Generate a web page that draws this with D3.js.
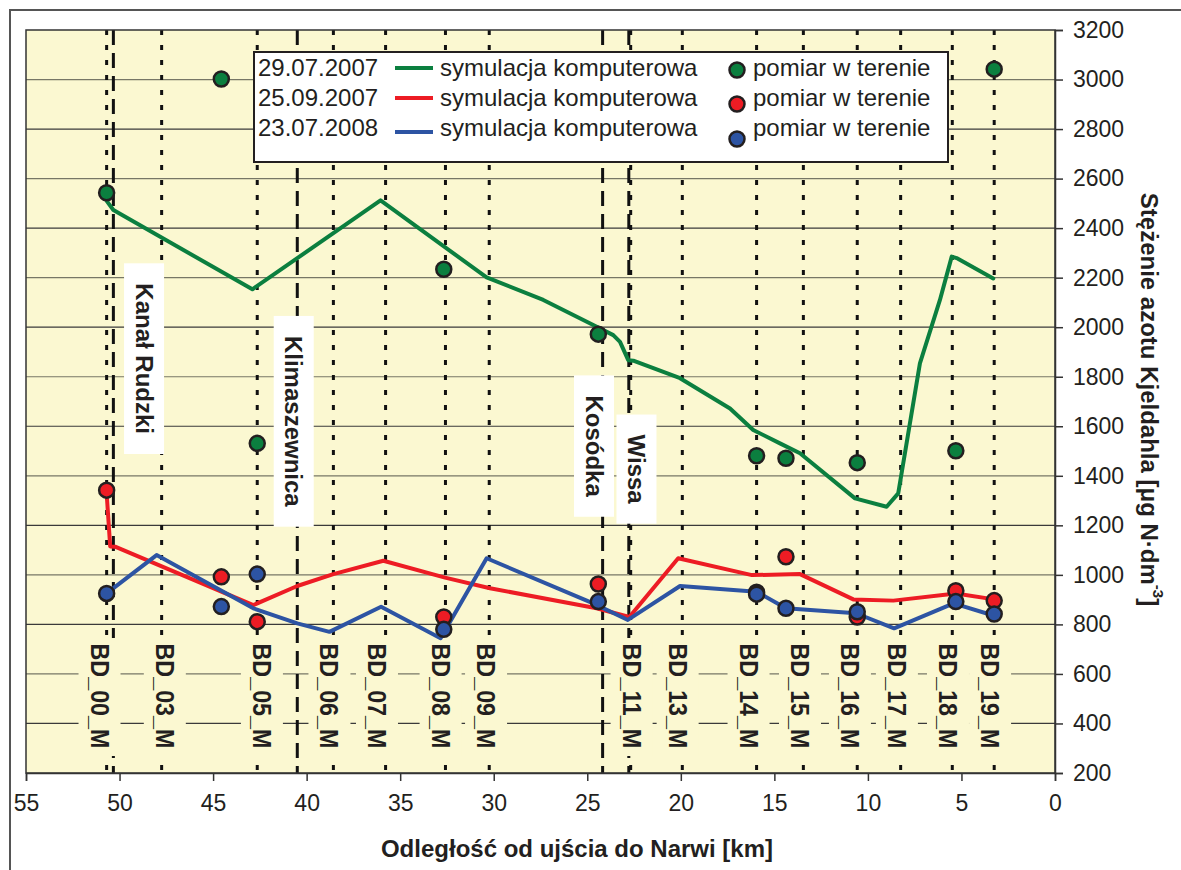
<!DOCTYPE html>
<html>
<head>
<meta charset="utf-8">
<script src="https://cdn.jsdelivr.net/npm/d3@7"></script>
<style>
  html, body { margin: 0; padding: 0; background: #ffffff; }
  svg { display: block; font-family: "Liberation Sans", Arial, Helvetica, sans-serif; }
</style>
</head>
<body>
<svg id="chart" width="1181" height="870"></svg>
<script>
// ---------------- DATA ----------------
const xTickValues = [55, 50, 45, 40, 35, 30, 25, 20, 15, 10, 5, 0];
const yTickValues = [200, 400, 600, 800, 1000, 1200, 1400, 1600, 1800, 2000, 2200, 2400, 2600, 2800, 3000, 3200];

const stationNames = ["BD_00_M", "BD_03_M", "BD_05_M", "BD_06_M", "BD_07_M", "BD_08_M", "BD_09_M",
  "BD_11_M", "BD_13_M", "BD_14_M", "BD_15_M", "BD_16_M", "BD_17_M", "BD_18_M", "BD_19_M"];
const stationKm = [50.69, 47.75, 42.64, 38.57, 35.78, 32.58, 30.24, 22.68, 19.92, 15.95, 13.45, 10.57, 8.25, 5.49, 3.25];
const stationLabelKm = [51.07, 47.58, 42.39, 38.78, 36.24, 32.84, 30.41, 22.63, 20.17, 16.38, 13.63, 10.96, 8.45, 5.72, 3.47];

const tributaryNames = ["Kanał Rudzki", "Klimaszewnica", "Kosódka", "Wissa"];
const tributaryKm = [50.33, 40.5, 24.18, 22.78];
const tributaryLabelKm = [48.69, 40.69, 24.64, 22.37];
const tributaryLabelValue = [1873, 1620, 1520, 1427];

const seriesDates = ["29.07.2007", "25.09.2007", "23.07.2008"];

// simulation (computer model) lines
const greenSimKm = [50.69, 50.33, 42.9, 36.05, 30.38, 27.35, 24.68, 23.61, 23.25, 22.81, 22.54, 20.04, 17.37, 16.13, 14.7, 13.63, 10.69, 9.0, 8.38, 7.22, 6.15, 5.52, 5.26, 3.30];
const greenSim = [2510, 2473, 2153, 2512, 2201, 2110, 2009, 1968, 1941, 1867, 1865, 1794, 1672, 1585, 1531, 1491, 1309, 1275, 1329, 1854, 2110, 2285, 2279, 2197];

const redSimKm = [50.69, 50.5, 50.24, 42.85, 40.5, 38.57, 35.9, 32.6, 30.2, 24.5, 22.75, 20.14, 16.2, 13.63, 10.78, 8.64, 5.3, 3.25];
const redSim = [1330, 1115, 1114, 878, 955, 1003, 1057, 989, 946, 865, 830, 1067, 999, 1003, 901, 896, 925, 901];

const blueSimKm = [50.69, 48.02, 42.85, 40.5, 38.78, 36.02, 32.84, 30.38, 24.68, 22.83, 20.04, 15.95, 14.38, 10.64, 8.6, 5.42, 3.25];
const blueSim = [925, 1080, 865, 804, 770, 871, 744, 1067, 885, 818, 955, 932, 865, 845, 784, 885, 835];

// field measurements
const measKm = [50.69, 44.56, 42.64, 32.67, 24.41, 15.95, 14.38, 10.57, 5.3, 3.25];
const greenMeas = [2543, 3002, 1531, 2234, 1972, 1481, 1471, 1453, 1501, 3042];
const redMeas = [1342, 992, 811, 830, 963, 930, 1073, 830, 936, 896];
const blueMeas = [925, 872, 1003, 780, 892, 922, 865, 851, 892, 842];

const seriesColors = ["#0b7f3f", "#ed1c24", "#2d54a3"];
const simLabel = "symulacja komputerowa";
const measLabel = "pomiar w terenie";
const xTitle = "Odległość od ujścia do Narwi [km]";
const yTitleMain = "Stężenie azotu Kjeldahla [μg N·dm";
const yTitleSup = "-3";
const yTitleEnd = "]";

// ---------------- LAYOUT ----------------
const svg = d3.select("#chart");
const L = 26, R = 1055, T = 30, B = 773;
const x = d3.scaleLinear().domain([55, 0]).range([L, R]);
const y = d3.scaleLinear().domain([200, 3200]).range([B, T]);
const ink = "#231f20";
const cream = "#fbf8d1";

// outer frame (only top and left visible)
svg.append("path").attr("d", `M10,870 L10,10 L1181,10`).attr("fill", "none")
  .attr("stroke", "#555").attr("stroke-width", 2);

// plot background
svg.append("rect").attr("x", L).attr("y", T).attr("width", R - L).attr("height", B - T)
  .attr("fill", cream);

// horizontal gridlines
svg.append("g").selectAll("line").data(yTickValues.filter(v => v > 200 && v < 3200)).join("line")
  .attr("x1", L).attr("x2", R).attr("y1", d => y(d)).attr("y2", d => y(d))
  .attr("stroke", (d, i) => i % 2 === 0 ? "#3a3a3a" : "#777766").attr("stroke-width", 1.2);

// station dotted lines
svg.append("g").selectAll("line").data(stationKm).join("line")
  .attr("x1", d => x(d)).attr("x2", d => x(d)).attr("y1", T).attr("y2", B)
  .attr("stroke", "#111").attr("stroke-width", 3).attr("stroke-dasharray", "5,10");

// tributary dashed lines
svg.append("g").selectAll("line").data(tributaryKm).join("line")
  .attr("x1", d => x(d)).attr("x2", d => x(d)).attr("y1", T).attr("y2", B)
  .attr("stroke", "#111").attr("stroke-width", 3).attr("stroke-dasharray", "15,8");

// station label boxes and labels
const stG = svg.append("g");
stG.selectAll("rect").data(stationLabelKm).join("rect")
  .attr("x", d => x(d) - 21).attr("y", 638).attr("width", 42).attr("height", 118)
  .attr("fill", cream);
stG.selectAll("text").data(stationNames).join("text")
  .attr("transform", (d, i) => `translate(${x(stationLabelKm[i])},${696}) rotate(90)`)
  .attr("text-anchor", "middle").attr("dominant-baseline", "central")
  .attr("font-size", 25).attr("font-weight", "bold").attr("fill", ink)
  .attr("textLength", 105).attr("lengthAdjust", "spacingAndGlyphs")
  .text(d => d);

// tributary labels with white boxes
const trG = svg.append("g");
tributaryNames.forEach((name, i) => {
  const cx = x(tributaryLabelKm[i]), cy = y(tributaryLabelValue[i]);
  const g = trG.append("g");
  const rect = g.append("rect").attr("fill", "#ffffff");
  const t = g.append("text")
    .attr("transform", `translate(${cx},${cy}) rotate(90)`)
    .attr("text-anchor", "middle").attr("dominant-baseline", "central")
    .attr("font-size", 24).attr("font-weight", "bold").attr("fill", ink)
    .text(name);
  const len = t.node().getComputedTextLength();
  const h = len + 40;
  rect.attr("x", cx - 20).attr("y", cy - h / 2).attr("width", 40).attr("height", h);
});

// plot border
svg.append("rect").attr("x", L).attr("y", T).attr("width", R - L).attr("height", B - T)
  .attr("fill", "none").attr("stroke", "#333").attr("stroke-width", 1.5);

// axes
const xAxis = svg.append("g").attr("transform", `translate(0,${B})`)
  .call(d3.axisBottom(x).tickValues(xTickValues).tickSize(8).tickPadding(14).tickFormat(d3.format("d")));
xAxis.select(".domain").attr("stroke", "#333").attr("stroke-width", 1.5);
xAxis.selectAll(".tick line").attr("stroke", "#333").attr("stroke-width", 1.5);
xAxis.selectAll(".tick text").attr("font-size", 23).attr("fill", ink)
  .attr("font-family", "Liberation Sans, Arial, sans-serif");

const yAxis = svg.append("g").attr("transform", `translate(${R},0)`)
  .call(d3.axisRight(y).tickValues(yTickValues).tickSize(8).tickPadding(10).tickFormat(d3.format("d")));
yAxis.select(".domain").attr("stroke", "#333").attr("stroke-width", 1.5);
yAxis.selectAll(".tick line").attr("stroke", "#333").attr("stroke-width", 1.5);
yAxis.selectAll(".tick text").attr("font-size", 23).attr("fill", ink)
  .attr("font-family", "Liberation Sans, Arial, sans-serif");

// axis titles
svg.append("text").attr("x", 577).attr("y", 848).attr("text-anchor", "middle")
  .attr("dominant-baseline", "central").attr("font-size", 24).attr("font-weight", "bold")
  .attr("fill", ink).text(xTitle);

const yt = svg.append("text").attr("transform", `translate(1150,${(T + B) / 2 - 2}) rotate(90)`)
  .attr("text-anchor", "middle").attr("dominant-baseline", "central")
  .attr("font-size", 24).attr("font-weight", "bold").attr("fill", ink);
yt.append("tspan").text(yTitleMain);
yt.append("tspan").attr("font-size", 15).attr("baseline-shift", "super").text(yTitleSup);
yt.append("tspan").text(yTitleEnd);

// legend
const lg = svg.append("g");
lg.append("rect").attr("x", 254).attr("y", 52).attr("width", 694).attr("height", 110)
  .attr("fill", "#ffffff").attr("stroke", ink).attr("stroke-width", 2);
const rowY = [67, 97, 127];
const lineY = [68, 98, 132];
const dotY = [70, 104, 139];
seriesDates.forEach((d, i) => {
  lg.append("text").attr("x", 258).attr("y", rowY[i]).attr("dominant-baseline", "central")
    .attr("font-size", 24).attr("fill", ink).text(d);
  lg.append("line").attr("x1", 395).attr("x2", 433).attr("y1", lineY[i]).attr("y2", lineY[i])
    .attr("stroke", seriesColors[i]).attr("stroke-width", 4);
  lg.append("text").attr("x", 440).attr("y", rowY[i]).attr("dominant-baseline", "central")
    .attr("font-size", 24).attr("fill", ink).text(simLabel);
  lg.append("circle").attr("cx", 737).attr("cy", dotY[i]).attr("r", 7.5)
    .attr("fill", seriesColors[i]).attr("stroke", ink).attr("stroke-width", 2.5);
  lg.append("text").attr("x", 753).attr("y", rowY[i]).attr("dominant-baseline", "central")
    .attr("font-size", 24).attr("fill", ink).text(measLabel);
});

// simulation lines
const lineGen = d3.line().x(d => x(d[0])).y(d => y(d[1]));
const sims = [
  d3.zip(greenSimKm, greenSim),
  d3.zip(redSimKm, redSim),
  d3.zip(blueSimKm, blueSim)
];
sims.forEach((pts, i) => {
  svg.append("path").datum(pts).attr("d", lineGen).attr("fill", "none")
    .attr("stroke", seriesColors[i]).attr("stroke-width", 4)
    .attr("stroke-linejoin", "round").attr("stroke-linecap", "round");
});

// measurement markers
[greenMeas, redMeas, blueMeas].forEach((vals, i) => {
  svg.append("g").selectAll("circle").data(d3.zip(measKm, vals)).join("circle")
    .attr("cx", d => x(d[0])).attr("cy", d => y(d[1])).attr("r", 7.5)
    .attr("fill", seriesColors[i]).attr("stroke", ink).attr("stroke-width", 2.5);
});
</script>
</body>
</html>
